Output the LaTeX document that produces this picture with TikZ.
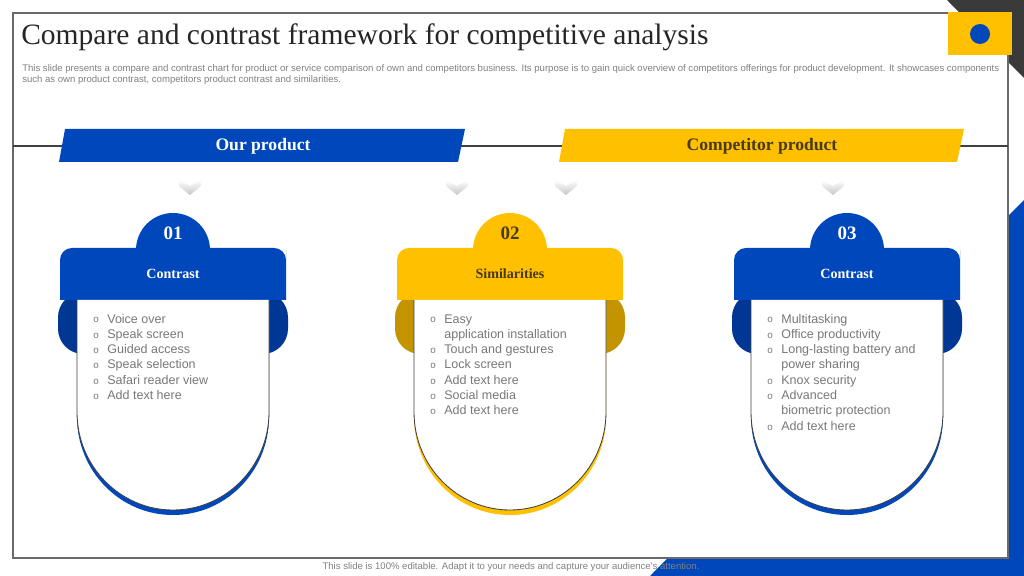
\documentclass[tikz,border=0pt]{standalone}
\usepackage{fontspec}
\setmainfont{Liberation Serif}
\newfontfamily\arialfont{Liberation Sans}

\definecolor{prodblue}{RGB}{0,71,187}
\definecolor{prodblueD}{RGB}{0,55,148}
\definecolor{compyellow}{RGB}{255,192,0}
\definecolor{compyellowD}{RGB}{196,148,0}
\definecolor{textbrown}{RGB}{72,58,22}
\definecolor{listgray}{RGB}{120,120,120}
\definecolor{framegray}{RGB}{105,105,105}
\definecolor{cornergray}{RGB}{58,58,58}

\newcommand{\bul}{\makebox[10pt][l]{\raisebox{0.2pt}{\fontsize{7}{6}\selectfont o}}}
\newcommand{\cont}{\hspace*{10pt}}

\begin{document}
\begin{tikzpicture}
[x=0.025cm,y=-0.025cm,%
  every node/.style={inner sep=0pt},%
  banner/.style={font=\bfseries\fontsize{12.5}{14}\selectfont},%
  numtext/.style={font=\bfseries\fontsize{13.5}{15}\selectfont},%
  headtext/.style={font=\bfseries\fontsize{10}{12}\selectfont},%
  listtext/.style={font=\arialfont\fontsize{8.9}{10.9}\selectfont,text=listgray,anchor=base west},%
  smalltext/.style={font=\arialfont\fontsize{6.8}{8}\selectfont,text=gray},%
  outline/.style={draw=black!75,line width=0.6pt}]
\useasboundingbox (0,0) rectangle (1024,576);
\fill[white] (0,0) rectangle (1024,576);
% corner decorations and slide frame
\fill[cornergray] (947,0) -- (1024,0) -- (1024,78) -- cycle;
\fill[prodblue] (1024,200) -- (1024,576) -- (650,576) -- cycle;
\draw[framegray,fill=white,line width=0.8pt] (13,13) rectangle (1008,558);
\fill[compyellow] (948,12) rectangle (1012,55);
\fill[prodblue] (980,34) circle (10);
% heading
\node[anchor=base west,font=\fontsize{21}{25}\selectfont,text=black!85] (title) at (21,45)
  {Compare and contrast framework for competitive analysis};
\node[smalltext,anchor=base west] (sub1) at (22,72) {This slide presents a compare and contrast chart for product or service comparison of own and competitors business. Its purpose is to gain quick overview of competitors offerings for product development. It showcases components};
\node[smalltext,anchor=base west] (sub2) at (22,83) {such as own product contrast, competitors product contrast and similarities.};
% banners
\draw[black!75,line width=0.8pt] (13,146) -- (1008,146);
\fill[prodblue] (65,129) -- (465,129) -- (458,162) -- (59,162) -- cycle;
\fill[compyellow] (565,129) -- (964,129) -- (957,162) -- (559,162) -- cycle;
\node[banner,text=white] (ours) at (263,146) {Our product};
\node[banner,text=textbrown] (theirs) at (762,146) {Competitor product};
\foreach \cx in {190,457,566,833}
  \shade[top color=white,bottom color=black!22]
    (\cx-11,180) -- (\cx,186) -- (\cx+11,180) -- (\cx+11,186) -- (\cx,195) -- (\cx-11,186) -- cycle;
% cards
\foreach \cx/\main/\dark/\ink/\num/\head in
  {173/prodblue/prodblueD/white/01/Contrast,
   510/compyellow/compyellowD/textbrown/02/Similarities,
   847/prodblue/prodblueD/white/03/Contrast}
{
  \fill[\main] (\cx,250) circle (37);
  \fill[\dark,rounded corners=18pt] (\cx-115,292) rectangle (\cx+115,354);
  \fill[\main] (\cx-113,300) -- (\cx-113,262) [rounded corners=8.5pt] -- (\cx-113,248)
    -- (\cx+113,248) -- (\cx+113,262) [sharp corners] -- (\cx+113,300) -- cycle;
  \fill[\main] (\cx-96,305) -- (\cx-96,417)
    arc[start angle=180,end angle=0,x radius=96,y radius=98] -- (\cx+96,305) -- cycle;
  \fill[white] (\cx-96,300) -- (\cx-96,412)
    arc[start angle=180,end angle=0,x radius=96,y radius=98] -- (\cx+96,300) -- cycle;
  \draw[outline] (\cx-96,300) -- (\cx-96,412)
    arc[start angle=180,end angle=0,x radius=96,y radius=98] -- (\cx+96,300);
  \node[numtext,text=\ink] (num\num) at (\cx,233) {\num};
  \node[headtext,text=\ink] (head\num) at (\cx,274) {\head};
}
\node[listtext] (list01) at (93,323) {\begin{tabular}[t]{@{}l@{}}
  \bul Voice over\\ \bul Speak screen\\ \bul Guided access\\
  \bul Speak selection\\ \bul Safari reader view\\ \bul Add text here
\end{tabular}};
\node[listtext] (list02) at (430,323) {\begin{tabular}[t]{@{}l@{}}
  \bul Easy\\ \cont application installation\\ \bul Touch and gestures\\
  \bul Lock screen\\ \bul Add text here\\ \bul Social media\\ \bul Add text here
\end{tabular}};
\node[listtext] (list03) at (767,323) {\begin{tabular}[t]{@{}l@{}}
  \bul Multitasking\\ \bul Office productivity\\ \bul Long-lasting battery and\\
  \cont power sharing\\ \bul Knox security\\ \bul Advanced\\
  \cont biometric protection\\ \bul Add text here
\end{tabular}};
% footer
\node[smalltext] (foot) at (511,567) {This slide is 100\% editable. Adapt it to your needs and capture your audience's attention.};
\end{tikzpicture}
\end{document}
